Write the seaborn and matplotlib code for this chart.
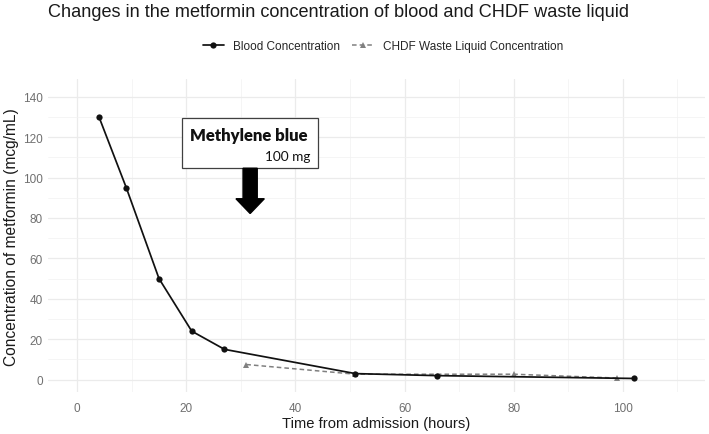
import matplotlib
matplotlib.use("Agg")
import matplotlib.pyplot as plt
import matplotlib.patches as mpatches
import seaborn as sns
import pandas as pd
import numpy as np

# ---- data ----
blood_time = [4, 9, 15, 21, 27, 51, 66, 102]
blood_conc = [130, 95, 50, 24, 15, 3, 2, 0.6]
chdf_time = [31, 51, 80, 99]
chdf_conc = [7.5, 2.7, 2.7, 0.8]
series_names = ["Blood Concentration", "CHDF Waste Liquid Concentration"]
x_ticks = [0, 20, 40, 60, 80, 100]
y_ticks = [0, 20, 40, 60, 80, 100, 120, 140]

title = "Changes in the metformin concentration of blood and CHDF waste liquid"
xlabel = "Time from admission (hours)"
ylabel = "Concentration of metformin (mcg/mL)"
annot_title = "Methylene blue"
annot_dose = "100 mg"

sns.set_style("white")
plt.rcParams['font.family'] = ['Liberation Sans', 'DejaVu Sans']

df_blood = pd.DataFrame({"time": blood_time, "conc": blood_conc})
df_chdf = pd.DataFrame({"time": chdf_time, "conc": chdf_conc})

fig = plt.figure(figsize=(7.09, 4.35), dpi=100)
ax = fig.add_axes([0.068, 0.097, 0.926, 0.718])

sns.lineplot(data=df_chdf, x="time", y="conc", ax=ax, color="#808080",
             linestyle=(0, (3, 2)), linewidth=1.1, marker="^", markersize=5,
             markeredgewidth=0, label=series_names[1], zorder=3)
sns.lineplot(data=df_blood, x="time", y="conc", ax=ax, color="#111111",
             linewidth=1.25, marker="o", markersize=4.5, markeredgewidth=0,
             label=series_names[0], zorder=4)

ax.set_xlim(-5.3, 115)
ax.set_ylim(-6, 148.5)
ax.set_xticks(x_ticks)
ax.set_yticks(y_ticks)
ax.set_xticks([10, 30, 50, 70, 90, 110], minor=True)
ax.set_yticks([10, 30, 50, 70, 90, 110, 130], minor=True)
ax.grid(which="major", color="#EBEBEB", linewidth=0.9)
ax.grid(which="minor", color="#F2F2F2", linewidth=0.5)
ax.set_axisbelow(True)
for s in ax.spines.values():
    s.set_visible(False)
ax.tick_params(which="both", length=0)
ax.tick_params(axis="both", labelsize=8.5, labelcolor="#707070")
ax.tick_params(axis="x", pad=7)
ax.tick_params(axis="y", pad=4)

ax.set_xlabel(xlabel, fontsize=10.6, color="#1a1a1a", labelpad=2)
ax.set_ylabel(ylabel, fontsize=11.2, color="#1a1a1a", labelpad=3)

# legend
handles, labels = ax.get_legend_handles_labels()
order = [labels.index(n) for n in series_names]
ax.get_legend().remove()
fig.legend([handles[i] for i in order], [labels[i] for i in order],
           loc="center", bbox_to_anchor=(0.54, 0.892), ncol=2, frameon=False,
           fontsize=8.5, handlelength=1.8, columnspacing=1.0, handletextpad=0.8)

fig.text(0.068, 0.99, title, fontsize=13.1, ha="left", va="top", color="#1a1a1a")

# annotation box and arrow
box = mpatches.Rectangle((19.2, 104.6), 25.0, 24.8, facecolor="white",
                         edgecolor="#404040", linewidth=0.9, zorder=5)
ax.add_patch(box)
ax.text(31.5, 121.1, annot_title, fontsize=12, fontweight="heavy",
        family=["Lato", "DejaVu Sans"], ha="center", va="center", zorder=6,
        color="#111111")
ax.text(42.8, 110.6, annot_dose, fontsize=9.8, family=["Lato", "DejaVu Sans"],
        ha="right", va="center", zorder=6, color="#111111")
arrow = mpatches.FancyArrow(31.7, 104.6, 0, -22.4, width=2.6, head_width=5.2,
                            head_length=7.3, length_includes_head=True,
                            color="black", zorder=5)
ax.add_patch(arrow)

fig.savefig("out.png", dpi=100)
